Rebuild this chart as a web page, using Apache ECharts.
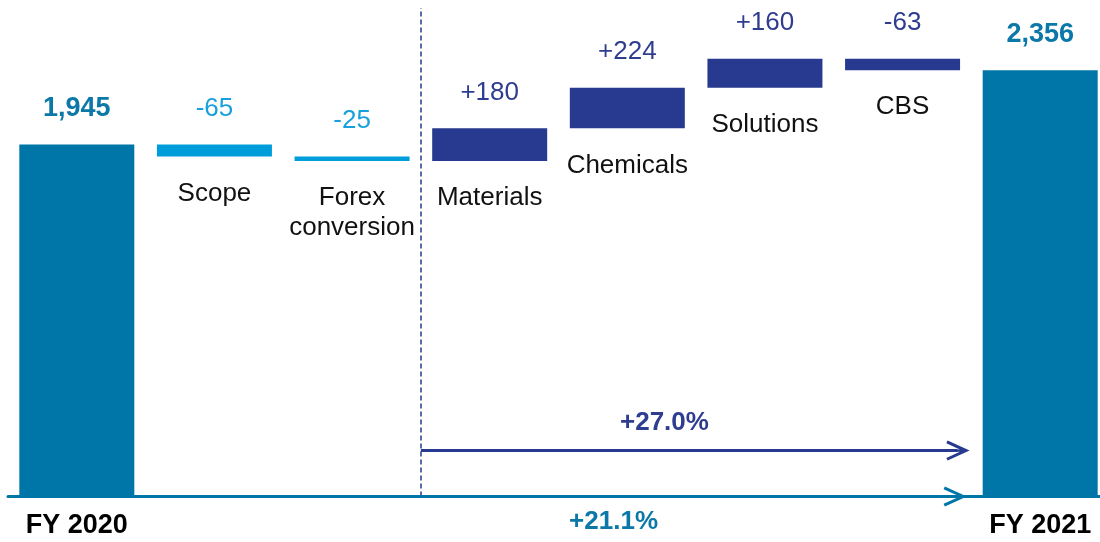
<!DOCTYPE html>
<html>
<head>
    <meta charset="utf-8"/>
    <title>FY 2020 - FY 2021 bridge</title>
    <style>
        html, body { margin: 0; padding: 0; background: #fff; }
        #main { width: 1100px; height: 542px; }
    </style>
</head>
<body>
<div id="main"></div>
<script src="https://cdn.jsdelivr.net/npm/echarts@6/dist/echarts.min.js"></script>
<script>
    // data
    var categories = ['FY 2020', 'Scope', 'Forex\nconversion', 'Materials', 'Chemicals', 'Solutions', 'CBS', 'FY 2021'];
    var changes = [1945, -65, -25, 180, 224, 160, -63, 2356];
    var isTotal = [true, false, false, false, false, false, false, true];
    var isSegment = [false, false, false, true, true, true, true, false];
    var growthLabels = ['+27.0%', '+21.1%'];

    var teal = '#0076a8';
    var lightBlue = '#009ddb';
    var darkBlue = '#283a8f';
    var font = '"Liberation Sans", Arial, sans-serif';

    // waterfall: invisible base + visible step
    var base = [], height = [], running = 0;
    for (var i = 0; i < changes.length; i++) {
        if (isTotal[i]) {
            base.push(0); height.push(changes[i]); running = changes[i];
        } else if (changes[i] >= 0) {
            base.push(running); height.push(changes[i]); running += changes[i];
        } else {
            running += changes[i]; base.push(running); height.push(-changes[i]);
        }
    }

    function barColor(i) { return isTotal[i] ? teal : (isSegment[i] ? darkBlue : lightBlue); }
    function labelColor(i) { return isTotal[i] ? '#0b78a8' : (isSegment[i] ? '#2e3d8f' : '#18a0dc'); }

    // open arrow head, pointing up (rotated by markLine)
    var chevron = 'path://M10,0 L20,22 L17.3,23.3 L11.2,9.8 L11.2,24 L8.8,24 L8.8,9.8 L2.7,23.3 L0,22 Z';

    var myChart = echarts.init(document.getElementById('main'));
    var option = {
        animation: false,
        textStyle: { fontFamily: font },
        // y range goes below zero so the lower growth note stays inside the grid
        grid: { left: 8, top: 8, width: 1101, bottom: 2, containLabel: false, outerBoundsMode: 'none' },
        xAxis: [
            {
                type: 'category',
                data: categories,
                axisTick: { show: false },
                axisLine: { show: true, onZero: true, lineStyle: { color: teal, width: 3 } },
                axisLabel: { show: false }
            },
            { type: 'value', min: -0.5, max: 7.5, show: false }
        ],
        yAxis: { type: 'value', min: -240, max: 2700, show: false, splitLine: { show: false } },
        series: [
            {
                name: 'base',
                type: 'bar',
                stack: 'w',
                barWidth: 115,
                silent: true,
                itemStyle: { color: 'rgba(0,0,0,0)' },
                label: {
                    show: true, position: 'insideTop', distance: 22,
                    color: '#111', fontSize: 26, lineHeight: 30, fontFamily: font,
                    formatter: function (p) { return categories[p.dataIndex]; }
                },
                data: base.map(function (v, idx) {
                    if (isTotal[idx]) {
                        // year names sit under the baseline
                        return { value: v, label: { position: 'bottom', distance: 14, fontSize: 27, fontWeight: 'bold', color: '#000' } };
                    }
                    return { value: v };
                })
            },
            {
                name: 'value',
                type: 'bar',
                stack: 'w',
                barWidth: 115,
                silent: true,
                label: {
                    show: true, position: 'top', distance: 21, lineHeight: 30, fontFamily: font,
                    formatter: function (p) {
                        var v = changes[p.dataIndex];
                        if (isTotal[p.dataIndex]) return v.toLocaleString('en-US');
                        return (v > 0 ? '+' : '') + v;
                    }
                },
                data: height.map(function (v, idx) {
                    return {
                        value: v,
                        itemStyle: { color: barColor(idx) },
                        label: {
                            color: labelColor(idx),
                            fontWeight: isTotal[idx] ? 'bold' : 'normal',
                            fontSize: isTotal[idx] ? 27 : 26
                        }
                    };
                })
            },
            {
                name: 'notes',
                type: 'line',
                xAxisIndex: 1,
                yAxisIndex: 0,
                data: [],
                clip: false,
                silent: true,
                markLine: {
                    silent: true,
                    symbol: ['none', chevron],
                    label: { show: false },
                    emphasis: { disabled: true },
                    data: [
                        [
                            { coord: [2.5, 0], lineStyle: { type: [5, 3], width: 1.5, color: darkBlue } },
                            { coord: [2.5, 2700], symbol: 'none' }
                        ],
                        [
                            { coord: [2.5, 254], lineStyle: { type: 'solid', width: 3, color: darkBlue } },
                            { coord: [6.4, 254], symbolSize: [20, 24] }
                        ],
                        [
                            { coord: [-0.5, 0], lineStyle: { type: 'solid', width: 3, color: teal } },
                            { coord: [6.38, 0], symbolSize: [20, 24] }
                        ]
                    ]
                },
                markPoint: {
                    silent: true,
                    symbol: 'circle',
                    symbolSize: 1,
                    itemStyle: { color: 'rgba(0,0,0,0)' },
                    label: { show: true, position: 'inside', fontSize: 26, fontWeight: 'bold', fontFamily: font, formatter: '{b}' },
                    data: [
                        { name: growthLabels[0], coord: [4.27, 409], label: { color: '#2e3d8f' } },
                        { name: growthLabels[1], coord: [3.9, -141], label: { color: '#0b78a8' } }
                    ]
                }
            }
        ]
    };
    myChart.setOption(option);

    window.onresize = function () {
        myChart.resize();
    };
</script>
</body>
</html>
